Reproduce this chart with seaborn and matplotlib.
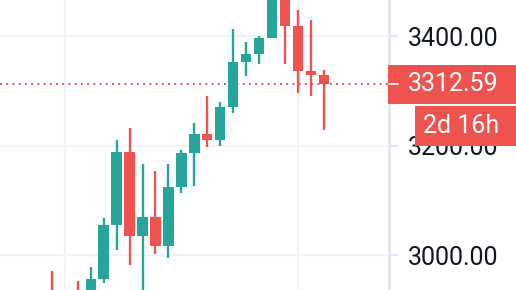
import matplotlib
matplotlib.use("Agg")
import matplotlib.pyplot as plt
from matplotlib.patches import Rectangle
import numpy as np
import pandas as pd
import seaborn as sns

# ---- data (weekly candles) ----
idx    = list(range(22))
opens  = [2925, 2880, 2925, 2915, 2956, 3055, 3189, 3035, 3070, 3016.5, 3125, 3187,
          3222, 3211, 3271.6, 3352.3, 3367, 3396.3, 3480, 3418.3, 3335.8, 3328.4]
closes = [2890, 2915, 2895, 2956, 3055, 3189, 3035, 3070, 3016.5, 3125, 3187, 3222,
          3211, 3271.6, 3352.3, 3367, 3396.3, 3480, 3418.3, 3335.8, 3328.4, 3312.59]
highs  = [2971, 2925, 2952, 2978, 3068, 3211, 3233, 3167, 3154, 3167, 3192.6, 3242.2,
          3291.7, 3280.7, 3412.8, 3389, 3400, 3500, 3500, 3447.7, 3429.4, 3337.6]
lows   = [2870, 2860, 2880, 2905, 2948.6, 3009, 2981.6, 2920, 3001.8, 2994.5, 3113.7, 3126.6,
          3198, 3200, 3260.5, 3326.6, 3348.6, 3396.3, 3348.6, 3297.2, 3291.7, 3229.3]
y_ticks = [3000, 3200, 3400]
last_price = 3312.59
countdown = "2d 16h"
vgrid_idx = [1, 19]

UP = "#26a69a"
DOWN = "#ef5350"

df = pd.DataFrame({"i": idx, "open": opens, "close": closes, "high": highs, "low": lows})
df["color"] = np.where(df["close"] >= df["open"], UP, DOWN)

sns.set_theme(style="white")
plt.rcParams["font.family"] = ["Roboto", "DejaVu Sans"]

W, H = 516, 290
fig = plt.figure(figsize=(W / 100, H / 100), dpi=100)
ax = fig.add_axes([0, 0, 389.3 / W, 1])
ax.set_xlim(-4, 26.05)
ax.set_ylim(2936.0, 3466.4)

# grid
for y in y_ticks:
    ax.axhline(y, color="#f0f3fa", lw=1.6, zorder=0)
for xv in vgrid_idx:
    ax.axvline(xv, color="#f0f3fa", lw=1.6, zorder=0)

# wicks and bodies
ax.vlines(df["i"], df["low"], df["high"], colors=df["color"], lw=1.7, zorder=2)
bottoms = np.minimum(df["open"], df["close"])
heights = np.abs(df["close"] - df["open"])
ax.bar(df["i"], heights, bottom=bottoms, width=0.8, color=df["color"], lw=0, zorder=3)

# last price dotted line
ax.axhline(last_price, color="#e0574f", lw=1.4, ls=(0, (1, 2.2)), zorder=1)

# spines / ticks
for s in ["top", "left", "bottom"]:
    ax.spines[s].set_visible(False)
ax.spines["right"].set_color("#e0e3eb")
ax.spines["right"].set_linewidth(1.8)
ax.set_xticks([])
ax.yaxis.tick_right()
ax.set_yticks(y_ticks)
ax.set_yticklabels([f"{v:.2f}" for v in y_ticks])
ax.tick_params(axis="y", direction="out", length=6.2, width=1.2, color="#e0e3eb",
               pad=7.5, labelsize=18, labelcolor="#131722", right=True, left=False)

# price label box
fig.canvas.draw()
yp = ax.transData.transform((0, last_price))[1]
x_axis = 389.3
box_h = 39
fig.patches.append(Rectangle((387.7, yp - box_h / 2), W - 387.7, box_h, transform=None,
                             facecolor=DOWN, edgecolor="none", zorder=5))
fig.lines.append(plt.Line2D([x_axis, 398], [yp, yp], transform=None, color="white",
                            lw=1.2, zorder=6))
fig.text(408 / W, yp / H, f"{last_price:.2f}", color="white", fontsize=18,
         va="center", ha="left", zorder=7)

# countdown box
y2 = yp - box_h / 2 - 2 - 20
fig.patches.append(Rectangle((415, y2 - 20), W - 415, 40, transform=None,
                             facecolor=DOWN, edgecolor="none", zorder=8))
fig.text(423 / W, y2 / H, countdown, color="white", fontsize=18,
         va="center", ha="left", zorder=9)

fig.savefig("out.png", dpi=100)
